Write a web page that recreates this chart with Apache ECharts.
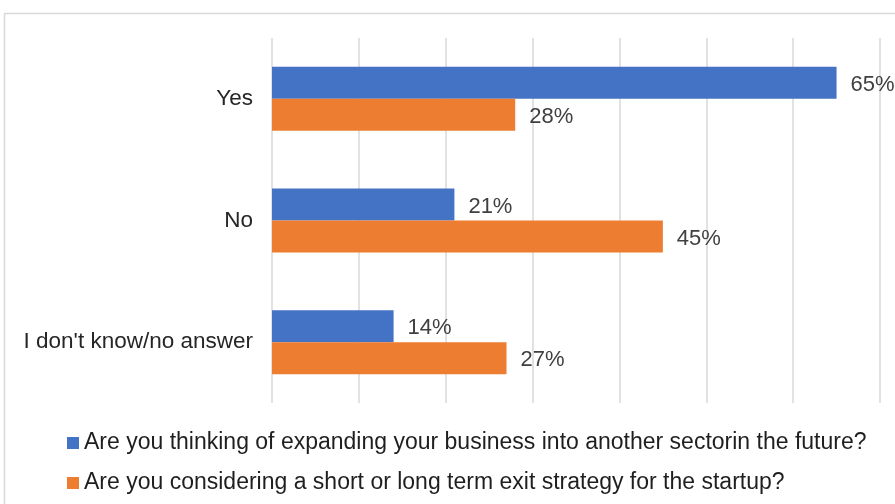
<!DOCTYPE html>
<html><head><meta charset="utf-8">
<script src="https://cdn.jsdelivr.net/npm/echarts@6/dist/echarts.min.js"></script>
<style>html,body{margin:0;padding:0;background:#fff}#c{width:895px;height:504px}</style>
</head><body><div id="c"></div>
<script>
const categories = ["Yes", "No", "I don't know/no answer"];
const seriesNames = [
  "Are you thinking of expanding your business into another sectorin the future?",
  "Are you considering a short or long term exit strategy for the startup?"
];
const expandValues = [65, 21, 14];
const exitValues = [28, 45, 27];
const colors = ["#4472C4", "#ED7D31"];

const FONT = 'Liberation Sans, Arial, sans-serif';
const chart = echarts.init(document.getElementById('c'));
const labelStyle = {show: true, position: 'right', distance: 14, offset: [0, 2], formatter: '{c}%', color: '#404040', fontSize: 22, fontFamily: FONT};
chart.setOption({
  animation: false,
  graphic: [{type: 'rect', shape: {x: 4.5, y: 13.5, width: 1000, height: 600}, style: {fill: 'none', stroke: '#d9d9d9', lineWidth: 1.5}, silent: true}],
  grid: {left: 272, right: 15, top: 38, bottom: 101, containLabel: false},
  xAxis: {type: 'value', min: 0, max: 70, interval: 10,
    axisLabel: {show: false}, axisLine: {show: false}, axisTick: {show: false},
    splitLine: {show: true, lineStyle: {color: '#d9d9d9', width: 1.5}}},
  yAxis: {type: 'category', data: categories, inverse: true,
    axisLine: {show: false}, axisTick: {show: false},
    axisLabel: {margin: 19, color: '#262626', fontSize: 22.5, fontFamily: FONT, padding: [4, 0, 0, 0]}},
  legend: {orient: 'vertical', left: 62, top: 426, itemWidth: 12, itemHeight: 12, itemGap: 16,
    icon: 'rect',
    textStyle: {color: '#1f1f1f', fontSize: 23, lineHeight: 24, fontFamily: FONT},
    data: seriesNames},
  series: [
    {name: seriesNames[0], type: 'bar', data: expandValues, barWidth: 32, barGap: '0%', itemStyle: {color: colors[0]}, label: labelStyle},
    {name: seriesNames[1], type: 'bar', data: exitValues, barWidth: 32, barGap: '0%', itemStyle: {color: colors[1]}, label: labelStyle}
  ]
});
</script></body></html>
